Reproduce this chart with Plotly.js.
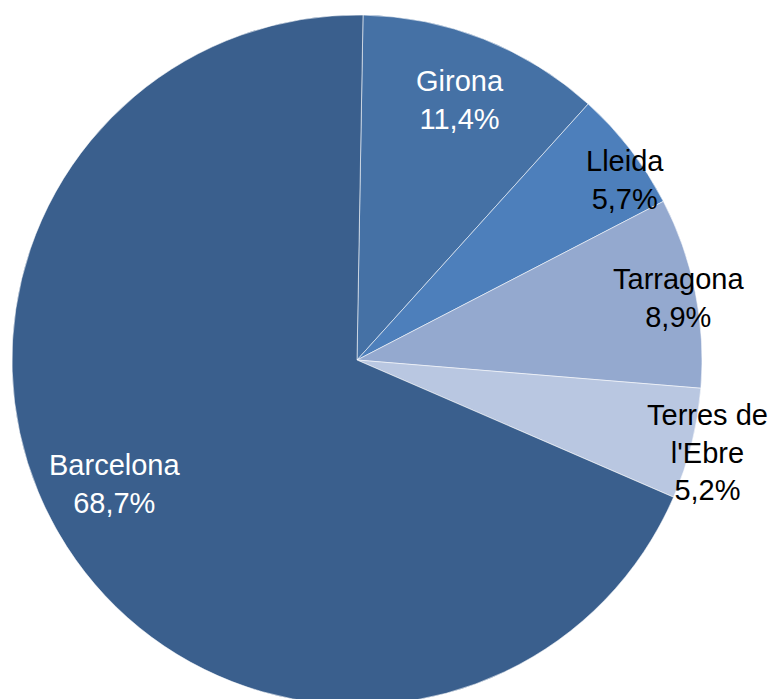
<!DOCTYPE html>
<html>
<head>
<meta charset="utf-8">
<script src="https://cdn.plot.ly/plotly-3.0.1.min.js"></script>
<style>
html,body{margin:0;padding:0;background:#fff;overflow:hidden;}
#chart{width:773px;height:699px;overflow:hidden;}
</style>
</head>
<body>
<div id="chart"></div>
<script>
// Data
const regions = ["Girona", "Lleida", "Tarragona", "Terres de<br>l'Ebre", "Barcelona"];
const shares = [11.4, 5.7, 8.9, 5.2, 68.7];
const shareLabels = ["11,4%", "5,7%", "8,9%", "5,2%", "68,7%"];

// Styles
const colors = ["#4571A5", "#4D7FBB", "#94A9CF", "#B9C7E1", "#3A5F8D"];
const textColors = ["#ffffff", "#000000", "#000000", "#000000", "#ffffff"];
const labelRadius = [0.81, 0.936, 0.95, 1.05, 0.79];
const labelAngleShift = [0, 3.8, 0.5, 0.8, 5.7];

const W = 773, H = 706;
const cxPx = 357, cyPx = 360, R = 345;   // pie centre (from top) and radius in px
const rotation = 1;

const domX = [(cxPx - R) / W, (cxPx + R) / W];
const cyB = H - cyPx;
const domY = [(cyB - R) / H, (cyB + R) / H];

const total = shares.reduce((a, b) => a + b, 0);
let cum = 0;
const annotations = shares.map((v, i) => {
  const mid = rotation + (cum + v / 2) / total * 360 + labelAngleShift[i];
  cum += v;
  const th = mid * Math.PI / 180;
  const px = cxPx + labelRadius[i] * R * Math.sin(th);
  const pyB = cyB + labelRadius[i] * R * Math.cos(th);
  return {
    xref: 'paper', yref: 'paper',
    x: px / W, y: pyB / H,
    xanchor: 'center', yanchor: 'middle',
    text: regions[i] + '<br>' + shareLabels[i],
    showarrow: false, align: 'center',
    font: {family: 'Liberation Sans, Arial, sans-serif', size: 29, color: textColors[i]}
  };
});

const trace = {
  type: 'pie',
  labels: regions,
  values: shares,
  sort: false,
  direction: 'clockwise',
  rotation: rotation,
  textinfo: 'none',
  hoverinfo: 'label+percent',
  marker: {colors: colors, line: {color: 'rgba(255,255,255,0.55)', width: 1}},
  domain: {x: domX, y: domY},
  showlegend: false
};

const layout = {
  width: W, height: H,
  margin: {l: 0, r: 0, t: 0, b: 0},
  paper_bgcolor: '#ffffff',
  showlegend: false,
  annotations: annotations
};

Plotly.newPlot('chart', [trace], layout, {displayModeBar: false, staticPlot: true});
</script>
</body>
</html>
